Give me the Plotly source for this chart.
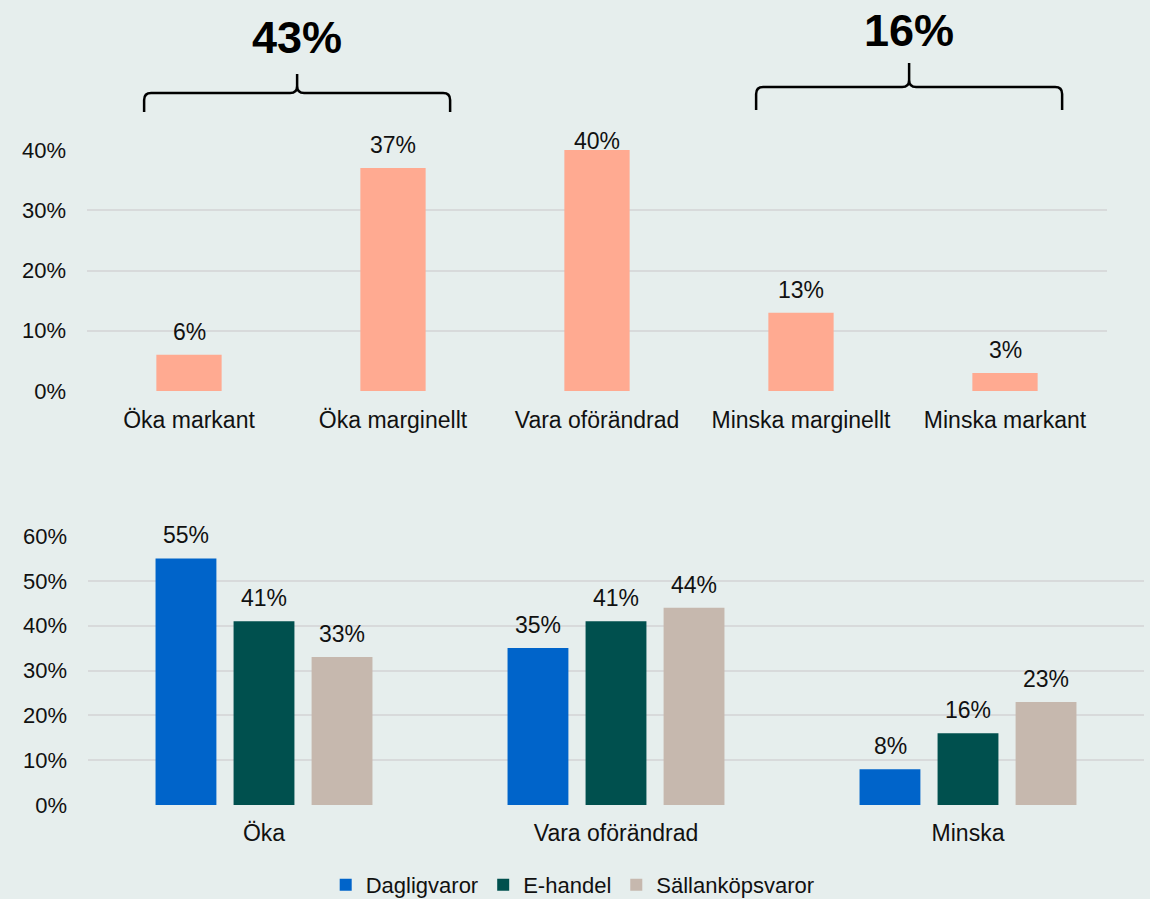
import plotly.graph_objects as go

# ---------------- data ----------------
top_categories = ["Öka markant", "Öka marginellt", "Vara oförändrad", "Minska marginellt", "Minska markant"]
top_values = [0.06, 0.37, 0.40, 0.13, 0.03]

bottom_categories = ["Öka", "Vara oförändrad", "Minska"]
series_names = ["Dagligvaror", "E-handel", "Sällanköpsvaror"]
dagligvaror = [0.55, 0.35, 0.08]
ehandel = [0.41, 0.41, 0.16]
sallankop = [0.33, 0.44, 0.23]

bracket_labels = ["43%", "16%"]
bracket_groups = [(0, 1), (3, 4)]

top_ticks = [0, 0.1, 0.2, 0.3, 0.4]
bottom_ticks = [0, 0.1, 0.2, 0.3, 0.4, 0.5, 0.6]

# ---------------- style ----------------
W, H = 1150, 899
BG = "#E6EEED"
GRID = "#D8DADB"
FONT = "Liberation Sans, Arial, sans-serif"
TXT = "#111111"
FS_TICK = 22
FS_CAT = 23
FS_LAB = 23
FS_LEG = 22

top_color = "#FFAA91"
series_colors = ["#0064CA", "#00504E", "#C6B8AE"]

TOP_PX = (150, 391)   # top / bottom pixel of top plot area
BOT_PX = (536, 805)
top_xdom = [87 / W, 1107 / W]
top_ydom = [(H - TOP_PX[1]) / H, (H - TOP_PX[0]) / H]
bot_xdom = [88 / W, 1144 / W]
bot_ydom = [(H - BOT_PX[1]) / H, (H - BOT_PX[0]) / H]
top_range = [0, 0.4]
bot_range = [0, 0.6]

fig = go.Figure()

fig.add_trace(go.Bar(
    x=top_categories, y=top_values, marker=dict(color=top_color, line=dict(width=0)),
    showlegend=False, xaxis="x", yaxis="y", hoverinfo="skip", width=0.32,
))

for name, vals, col in zip(series_names, [dagligvaror, ehandel, sallankop], series_colors):
    fig.add_trace(go.Bar(
        x=bottom_categories, y=vals, name=name,
        marker=dict(color=col, line=dict(width=0)),
        xaxis="x2", yaxis="y2", hoverinfo="skip",
    ))

GAP = 8
def label_shift(v, px, rng):
    # keep labels inside the chart's plot area (like the original)
    bar_top = px[1] - (v - rng[0]) / (rng[1] - rng[0]) * (px[1] - px[0])
    room = bar_top - (px[0] - 3) - 17
    return max(min(GAP, GAP + room), -14)

annotations = []
for c, v in zip(top_categories, top_values):
    annotations.append(dict(
        x=c, y=v, xref="x", yref="y", text=f"{v:.0%}", showarrow=False,
        yanchor="bottom", yshift=label_shift(v, TOP_PX, top_range) if v >= 0.4 else GAP,
        font=dict(family=FONT, size=FS_LAB, color=TXT),
    ))
slot = 78
for k, vals in enumerate([dagligvaror, ehandel, sallankop]):
    for c, v in zip(bottom_categories, vals):
        annotations.append(dict(
            x=c, y=v, xref="x2", yref="y2", text=f"{v:.0%}", showarrow=False,
            yanchor="bottom", yshift=GAP, xshift=(k - 1) * slot,
            font=dict(family=FONT, size=FS_LAB, color=TXT),
        ))

shapes = []
ncat = len(top_categories)
def cat_to_paper(i):
    return top_xdom[0] + (i + 0.5) / ncat * (top_xdom[1] - top_xdom[0])

def py(p):
    return (H - p) / H

bracket_y = [(112, 93, 74, 37), (110, 87, 63, 30)]  # pixel: end bottom, horizontal, tip, label centre
for (g0, g1), lab, (yb, yh, yt, yl) in zip(bracket_groups, bracket_labels, bracket_y):
    x0 = cat_to_paper(g0 - 0.22)
    x1 = cat_to_paper(g1 + 0.28)
    xc = (x0 + x1) / 2
    rx = 7 / W
    ry = 7 / H
    path = (
        f"M {x0},{py(yb)} "
        f"L {x0},{py(yh) - ry} "
        f"Q {x0},{py(yh)} {x0 + rx},{py(yh)} "
        f"L {xc - rx},{py(yh)} "
        f"Q {xc},{py(yh)} {xc},{py(yh) + ry} "
        f"L {xc},{py(yt)} "
        f"M {xc},{py(yh) + ry} "
        f"Q {xc},{py(yh)} {xc + rx},{py(yh)} "
        f"L {x1 - rx},{py(yh)} "
        f"Q {x1},{py(yh)} {x1},{py(yh) - ry} "
        f"L {x1},{py(yb)}"
    )
    shapes.append(dict(type="path", path=path, xref="paper", yref="paper",
                       line=dict(color="black", width=2.5)))
    annotations.append(dict(
        x=xc, y=py(yl), xref="paper", yref="paper", text=f"<b>{lab}</b>", showarrow=False,
        xanchor="center", yanchor="middle", font=dict(family=FONT, size=45, color="black"),
    ))

axis_common = dict(showline=False, zeroline=False, ticks="", fixedrange=True)

fig.update_layout(
    width=W, height=H, autosize=False,
    paper_bgcolor=BG, plot_bgcolor=BG,
    margin=dict(l=0, r=0, t=0, b=0, autoexpand=False),
    font=dict(family=FONT, size=FS_TICK, color=TXT),
    barmode="group", bargap=0.335, bargroupgap=0.22,
    xaxis=dict(domain=top_xdom, anchor="y", showgrid=False, tickfont=dict(size=FS_CAT),
               ticklabelstandoff=13, **axis_common),
    yaxis=dict(domain=top_ydom, anchor="x", range=top_range, tickvals=top_ticks,
               tickformat=".0%", showgrid=True, gridcolor=GRID, gridwidth=2,
               ticklabelstandoff=20, tickfont=dict(size=FS_TICK), **axis_common),
    xaxis2=dict(domain=bot_xdom, anchor="y2", showgrid=False, tickfont=dict(size=FS_CAT),
                ticklabelstandoff=12, **axis_common),
    yaxis2=dict(domain=bot_ydom, anchor="x2", range=bot_range, tickvals=bottom_ticks,
                tickformat=".0%", showgrid=True, gridcolor=GRID, gridwidth=2,
                ticklabelstandoff=20, tickfont=dict(size=FS_TICK), **axis_common),
    legend=dict(orientation="h", xref="container", yref="container",
                x=0.498, xanchor="center", y=14 / H, yanchor="middle",
                bgcolor="rgba(0,0,0,0)", font=dict(size=FS_LEG), itemwidth=30,
                traceorder="normal"),
    annotations=annotations,
    shapes=shapes,
)

fig.write_html(
    "out.html",
    config={"displayModeBar": False, "staticPlot": False},
    post_script="document.body.style.margin='0px';document.body.style.overflow='hidden';",
)
